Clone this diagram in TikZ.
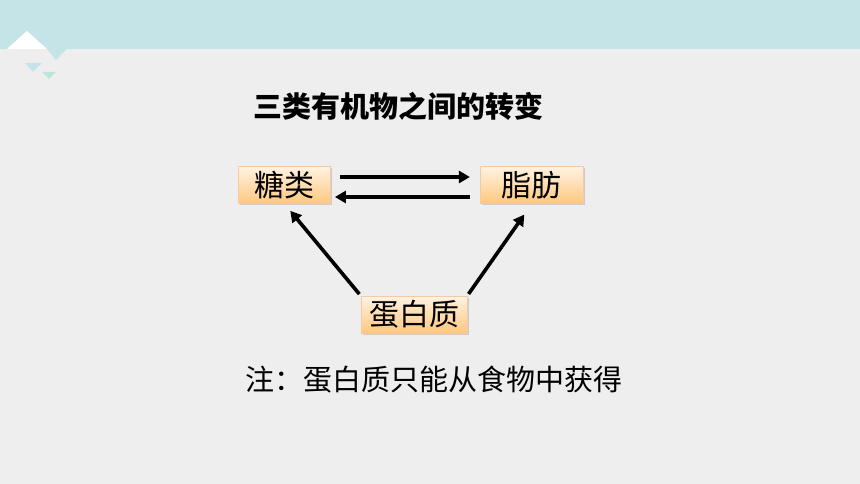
\documentclass[tikz,border=0pt]{standalone}
\usepackage{fontspec}
\setmainfont{Noto Sans CJK SC}
\usetikzlibrary{positioning,arrows.meta,shadows}
\definecolor{bandblue}{HTML}{C5E4E8}
\definecolor{bggray}{HTML}{EEEEEE}
\definecolor{tipgreen}{HTML}{BDE5DA}
\definecolor{boxtop}{HTML}{FFF3E2}
\definecolor{boxbot}{HTML}{FFC77E}
\definecolor{boxline}{HTML}{F5C9A6}

\begin{document}
\begin{tikzpicture}[x=1pt,y=-1pt,>={Triangle[length=11pt,width=12pt]},
    conn/.style={->,line width=3.6pt},
    box node/.style={draw=boxline,line width=0.8pt,top color=boxtop,bottom color=boxbot,
        minimum height=37pt,inner xsep=8pt,font=\fontsize{30}{34}\selectfont,
        drop shadow={shadow xshift=1.5pt,shadow yshift=-1.5pt,opacity=0.3}}]

    % background and header band
    \fill[bggray] (0,0) rectangle (860,484);
    \useasboundingbox (0,0) rectangle (860,484);
    \fill[bandblue] (0,0) rectangle (860,49);
    \fill[white] (7,49) -- (27,31) -- (47,49) -- cycle;
    \fill[bandblue] (47,49) -- (56,60) -- (67,49) -- cycle;
    \fill[bandblue] (25,63) -- (33,72) -- (42,63) -- cycle;
    \fill[tipgreen] (42,72) -- (49,79) -- (56,72) -- cycle;

    \node[font=\bfseries\fontsize{29}{33}\selectfont] (title) at (398,106) {三类有机物之间的转变};

    \node[box node, minimum width=92pt] (tang) at (284.5,185) {糖类};
    \node[box node, minimum width=103pt] (zhi) [right=149pt of tang] {脂肪};
    \node[box node, minimum width=104pt] (dan) at (414,314.5) {蛋白质};

    \node[font=\fontsize{29}{33}\selectfont] (note) at (434,380) {注：蛋白质只能从食物中获得};

    \draw[conn, shorten <=9pt, shorten >=10pt] ([yshift=8pt]tang.east) to ([yshift=8pt]tang.east -| zhi.west);
    \draw[conn, shorten <=10pt, shorten >=4pt] ([yshift=-12pt]tang.east -| zhi.west) to ([yshift=-12pt]tang.east);
    \draw[conn, shorten <=2pt, shorten >=9pt] (dan.north west) to (tang.south);
    \draw[conn, shorten <=2pt, shorten >=13pt] (dan.north east) to (zhi.south);

    ;
\end{tikzpicture}
\end{document}
